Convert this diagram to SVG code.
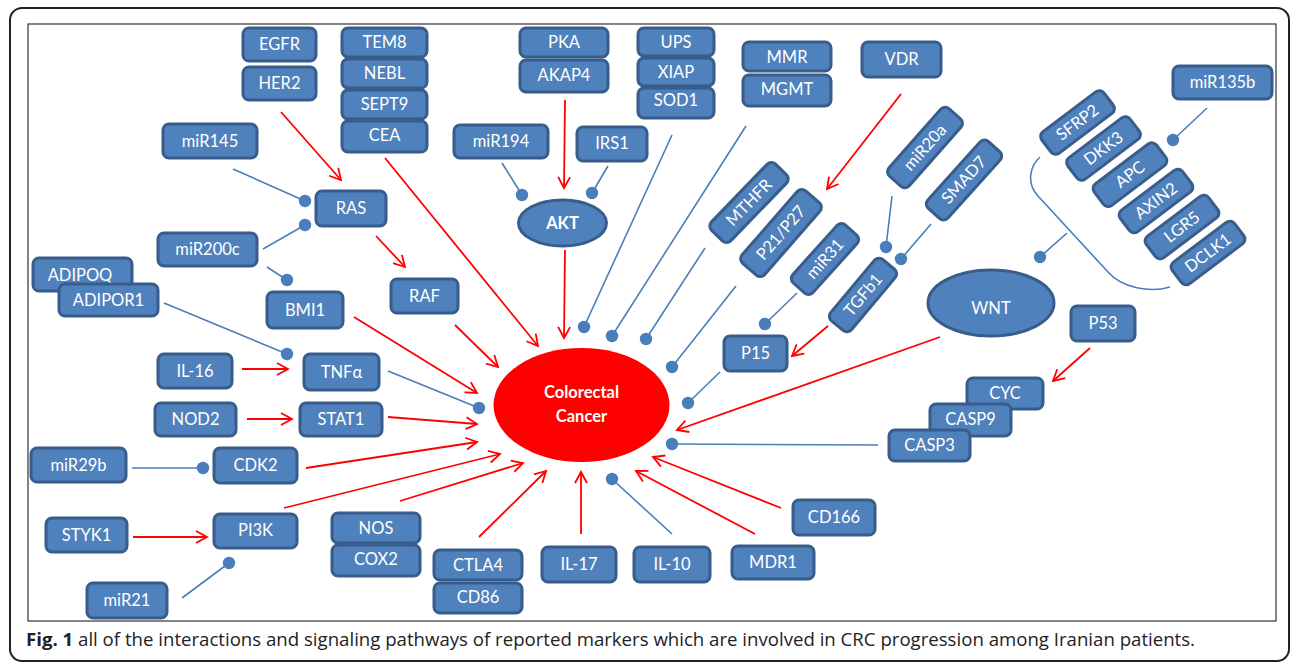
<svg xmlns="http://www.w3.org/2000/svg" width="1290" height="664" viewBox="0 0 1290 664">
<style>
.b{fill:#4F81BD;stroke:#385D8A;stroke-width:3}
.t{font-family:Lato,"Liberation Sans",sans-serif;font-size:16.5px;fill:#fff;text-anchor:middle}
.r{stroke:#FF0000;stroke-width:1.8;fill:none;marker-end:url(#arr)}
.l{stroke:#4A7EBB;stroke-width:1.6;fill:none;marker-end:url(#dot)}
</style>
<defs>
<marker id="arr" markerWidth="14" markerHeight="14" refX="12" refY="7" orient="auto" markerUnits="userSpaceOnUse"><path d="M1,1 L12,7 L1,13" fill="none" stroke="#FF0000" stroke-width="1.8"/></marker>
<marker id="dot" markerWidth="14" markerHeight="14" refX="7" refY="7" markerUnits="userSpaceOnUse"><circle cx="7" cy="7" r="6.2" fill="#4A7EBB"/></marker>
</defs>
<rect x="0" y="0" width="1290" height="664" fill="#fff"/>
<rect x="10" y="8" width="1279" height="653" rx="12" fill="none" stroke="#222" stroke-width="2"/>
<rect x="28" y="24" width="1248" height="597" fill="#fff" stroke="#333" stroke-width="1.2"/>
<g id="connectors">
<path class="r" d="M281,112 L341,180"/>
<path class="r" d="M376,236 L405,267"/>
<path class="r" d="M385,158 L538,346"/>
<path class="r" d="M565,100 L564,188"/>
<path class="r" d="M565,250 L564,338"/>
<path class="r" d="M455,325 L498,367"/>
<path class="r" d="M354,317 L477,393"/>
<path class="r" d="M242,369 L288,369"/>
<path class="r" d="M247,419 L292,419"/>
<path class="r" d="M388,417 L477,424"/>
<path class="r" d="M306,468 L477,442"/>
<path class="r" d="M284,508 L500,454"/>
<path class="r" d="M400,501 L523,463"/>
<path class="r" d="M133,537 L207,537"/>
<path class="r" d="M479,537 L546,471"/>
<path class="r" d="M581,534 L581,472"/>
<path class="r" d="M755,534 L636,471"/>
<path class="r" d="M781,508 L653,457"/>
<path class="r" d="M940,337 L677,430"/>
<path class="r" d="M1090,348 L1053,381"/>
<path class="r" d="M828,326 L792,356"/>
<path class="r" d="M901,94 L827,189"/>
<path class="l" d="M233,169 L305,201"/>
<path class="l" d="M263,249 L305,225"/>
<path class="l" d="M267,267 L287,280"/>
<path class="l" d="M502,163 L522,195"/>
<path class="l" d="M608,166 L592,193"/>
<path class="l" d="M672,135 L584,327"/>
<path class="l" d="M746,126 L612,336"/>
<path class="l" d="M705,248 L646,339"/>
<path class="l" d="M736,286 L672,367"/>
<path class="l" d="M797,293 L765,324"/>
<path class="l" d="M892,196 L886,247"/>
<path class="l" d="M931,224 L901,259"/>
<path class="l" d="M720,372 L688,403"/>
<path class="l" d="M878,445 L672,444"/>
<path class="l" d="M672,534 L612,479"/>
<path class="l" d="M388,371 L479,408"/>
<path class="l" d="M164,303 L287,354"/>
<path class="l" d="M132,468 L203,468"/>
<path class="l" d="M182,598 L229,563"/>
<path class="l" d="M1067,233 L1040,257"/>
<path class="l" d="M1207,108 L1173,140"/>
<path d="M1040,157 C1030,166 1026,183 1038,196 L1108,272 C1122,288 1150,293 1170,287" fill="none" stroke="#4A7EBB" stroke-width="1.6"/>
</g>
<g id="EGFR"><rect class="b" x="243" y="28" width="73" height="33" rx="6"/><text class="t" x="279.5" y="50">EGFR</text></g>
<g id="HER2"><rect class="b" x="243" y="67" width="73" height="33" rx="6"/><text class="t" x="279.5" y="89">HER2</text></g>
<g id="TEM8"><rect class="b" x="342" y="28" width="85" height="29" rx="6"/><text class="t" x="384.5" y="48">TEM8</text></g>
<g id="NEBL"><rect class="b" x="342" y="59" width="85" height="29" rx="6"/><text class="t" x="384.5" y="79">NEBL</text></g>
<g id="SEPT9"><rect class="b" x="342" y="90" width="85" height="29" rx="6"/><text class="t" x="384.5" y="110">SEPT9</text></g>
<g id="CEA"><rect class="b" x="342" y="121" width="85" height="31" rx="6"/><text class="t" x="384.5" y="141">CEA</text></g>
<g id="miR145"><rect class="b" x="163" y="124" width="94" height="34" rx="6"/><text class="t" x="210" y="147">miR145</text></g>
<g id="RAS"><rect class="b" x="316" y="191" width="70" height="35" rx="6"/><text class="t" x="351" y="214">RAS</text></g>
<g id="PKA"><rect class="b" x="520" y="28" width="88" height="29" rx="6"/><text class="t" x="564" y="48">PKA</text></g>
<g id="AKAP4"><rect class="b" x="520" y="60" width="88" height="32" rx="6"/><text class="t" x="564" y="81">AKAP4</text></g>
<g id="UPS"><rect class="b" x="638" y="28" width="76" height="28" rx="6"/><text class="t" x="676" y="48">UPS</text></g>
<g id="XIAP"><rect class="b" x="638" y="58" width="76" height="28" rx="6"/><text class="t" x="676" y="78">XIAP</text></g>
<g id="SOD1"><rect class="b" x="638" y="88" width="76" height="30" rx="6"/><text class="t" x="676" y="106">SOD1</text></g>
<g id="MMR"><rect class="b" x="743" y="42" width="88" height="29" rx="6"/><text class="t" x="787" y="62.5">MMR</text></g>
<g id="MGMT"><rect class="b" x="743" y="75" width="88" height="31" rx="6"/><text class="t" x="787" y="95">MGMT</text></g>
<g id="miR194"><rect class="b" x="454" y="125" width="94" height="33" rx="6"/><text class="t" x="501" y="147">miR194</text></g>
<g id="IRS1"><rect class="b" x="577" y="127" width="70" height="34" rx="6"/><text class="t" x="612" y="149">IRS1</text></g>
<g id="AKT"><ellipse class="b" cx="562.5" cy="223" rx="44" ry="23"/><text class="t" x="562.5" y="229" font-weight="bold">AKT</text></g>
<g id="VDR"><rect class="b" x="862" y="42" width="79" height="35" rx="6"/><text class="t" x="901.5" y="65">VDR</text></g>
<g id="miR135b"><rect class="b" x="1173" y="66" width="99" height="33" rx="6"/><text class="t" x="1222.5" y="88">miR135b</text></g>
<g id="MTHFR" transform="translate(749,202.5) rotate(-46)"><rect class="b" x="-46" y="-13.5" width="92" height="27" rx="6"/><text class="t" y="5.5">MTHFR</text></g>
<g id="P21P27" transform="translate(781,233) rotate(-49)"><rect class="b" x="-48" y="-15" width="96" height="30" rx="6"/><text class="t" y="5.5">P21/P27</text></g>
<g id="miR31" transform="translate(825,259) rotate(-48)"><rect class="b" x="-39" y="-13.5" width="78" height="27" rx="6"/><text class="t" y="5.5">miR31</text></g>
<g id="TGFb1" transform="translate(863,295) rotate(-50)"><rect class="b" x="-40" y="-13.5" width="80" height="27" rx="6"/><text class="t" y="5.5">TGFb1</text></g>
<g id="miR20a" transform="translate(925,147.5) rotate(-48.5)"><rect class="b" x="-45" y="-13.5" width="90" height="27" rx="6"/><text class="t" y="5.5">miR20a</text></g>
<g id="SMAD7" transform="translate(964,180) rotate(-48)"><rect class="b" x="-45" y="-13.5" width="90" height="27" rx="6"/><text class="t" y="5.5">SMAD7</text></g>
<g id="SFRP2" transform="translate(1077.5,122.5) rotate(-37)"><rect class="b" x="-39" y="-13.5" width="78" height="27" rx="6"/><text class="t" y="5.5">SFRP2</text></g>
<g id="DKK3" transform="translate(1103.5,148.5) rotate(-37)"><rect class="b" x="-39" y="-13.5" width="78" height="27" rx="6"/><text class="t" y="5.5">DKK3</text></g>
<g id="APC" transform="translate(1130,174.7) rotate(-37)"><rect class="b" x="-39" y="-13.5" width="78" height="27" rx="6"/><text class="t" y="5.5">APC</text></g>
<g id="AXIN2" transform="translate(1156,201) rotate(-37)"><rect class="b" x="-39" y="-13.5" width="78" height="27" rx="6"/><text class="t" y="5.5">AXIN2</text></g>
<g id="LGR5" transform="translate(1182,227) rotate(-37)"><rect class="b" x="-39" y="-13.5" width="78" height="27" rx="6"/><text class="t" y="5.5">LGR5</text></g>
<g id="DCLK1" transform="translate(1208,253) rotate(-37)"><rect class="b" x="-39" y="-13.5" width="78" height="27" rx="6"/><text class="t" y="5.5">DCLK1</text></g>
<g id="WNT"><ellipse class="b" cx="991" cy="303" rx="63" ry="33"/><text class="t" x="991" y="313.5" font-size="30">WNT</text></g>
<g id="P53"><rect class="b" x="1071" y="306" width="64" height="35" rx="6"/><text class="t" x="1103" y="329">P53</text></g>
<g id="CYC"><rect class="b" x="967" y="378" width="76" height="31" rx="6"/><text class="t" x="1005" y="399">CYC</text></g>
<g id="CASP9"><rect class="b" x="930" y="404" width="81" height="32" rx="6"/><text class="t" x="970.5" y="425">CASP9</text></g>
<g id="CASP3"><rect class="b" x="889" y="430" width="81" height="31" rx="6"/><text class="t" x="929.5" y="451">CASP3</text></g>
<g id="P15"><rect class="b" x="724" y="336" width="63" height="35" rx="6"/><text class="t" x="755.5" y="359">P15</text></g>
<g id="CD166"><rect class="b" x="793" y="500" width="82" height="35" rx="6"/><text class="t" x="834" y="523">CD166</text></g>
<g id="MDR1"><rect class="b" x="732" y="546" width="82" height="33" rx="6"/><text class="t" x="773" y="568">MDR1</text></g>
<g id="IL-10"><rect class="b" x="634" y="547" width="76" height="35" rx="6"/><text class="t" x="672" y="570">IL-10</text></g>
<g id="IL-17"><rect class="b" x="542" y="547" width="74" height="35" rx="6"/><text class="t" x="579" y="570">IL-17</text></g>
<g id="CTLA4"><rect class="b" x="434" y="550" width="88" height="30" rx="6"/><text class="t" x="478" y="571">CTLA4</text></g>
<g id="CD86"><rect class="b" x="434" y="583" width="88" height="30" rx="6"/><text class="t" x="478" y="603">CD86</text></g>
<g id="NOS"><rect class="b" x="332" y="513" width="88" height="30" rx="6"/><text class="t" x="376" y="534">NOS</text></g>
<g id="COX2"><rect class="b" x="332" y="545" width="88" height="31" rx="6"/><text class="t" x="376" y="565">COX2</text></g>
<g id="miR29b"><rect class="b" x="31" y="448" width="95" height="34" rx="6"/><text class="t" x="78.5" y="471">miR29b</text></g>
<g id="CDK2"><rect class="b" x="214" y="448" width="83" height="35" rx="6"/><text class="t" x="255.5" y="471">CDK2</text></g>
<g id="STYK1"><rect class="b" x="46" y="518" width="81" height="34" rx="6"/><text class="t" x="86.5" y="541">STYK1</text></g>
<g id="PI3K"><rect class="b" x="214" y="514" width="83" height="34" rx="6"/><text class="t" x="255.5" y="536">PI3K</text></g>
<g id="miR21"><rect class="b" x="87" y="583" width="80" height="35" rx="6"/><text class="t" x="127" y="606">miR21</text></g>
<g id="miR200c"><rect class="b" x="158" y="233" width="99" height="33" rx="6"/><text class="t" x="207.5" y="254.5">miR200c</text></g>
<g id="ADIPOQ"><rect class="b" x="33" y="258" width="99" height="33" rx="6"/><text class="t" x="80" y="281">ADIPOQ</text></g>
<g id="ADIPOR1"><rect class="b" x="59" y="284" width="99" height="32" rx="6"/><text class="t" x="108.5" y="306">ADIPOR1</text></g>
<g id="BMI1"><rect class="b" x="267" y="292" width="76" height="36" rx="6"/><text class="t" x="305" y="315.5">BMI1</text></g>
<g id="RAF"><rect class="b" x="391" y="279" width="67" height="34" rx="6"/><text class="t" x="424.5" y="301.5">RAF</text></g>
<g id="IL-16"><rect class="b" x="158" y="354" width="74" height="34" rx="6"/><text class="t" x="195" y="376.5">IL-16</text></g>
<g id="TNFa"><rect class="b" x="304" y="354" width="75" height="36" rx="6"/><text class="t" x="341.5" y="377.5">TNFα</text></g>
<g id="NOD2"><rect class="b" x="155" y="403" width="81" height="33" rx="6"/><text class="t" x="195.5" y="425">NOD2</text></g>
<g id="STAT1"><rect class="b" x="300" y="403" width="82" height="33" rx="6"/><text class="t" x="341" y="425">STAT1</text></g>
<g id="CRC"><ellipse cx="581.5" cy="405" rx="88" ry="57" fill="#FF0000"/><text class="t" x="581.5" y="397.5" font-size="17.5" font-weight="bold">Colorectal</text><text class="t" x="581.5" y="421.5" font-size="17.5" font-weight="bold">Cancer</text></g>
<text x="26" y="646" font-family="'Open Sans','Liberation Sans',sans-serif" font-size="17.5" fill="#222" textLength="1169" lengthAdjust="spacingAndGlyphs"><tspan font-weight="bold">Fig. 1</tspan> all of the interactions and signaling pathways of reported markers which are involved in CRC progression among Iranian patients.</text>
</svg>
